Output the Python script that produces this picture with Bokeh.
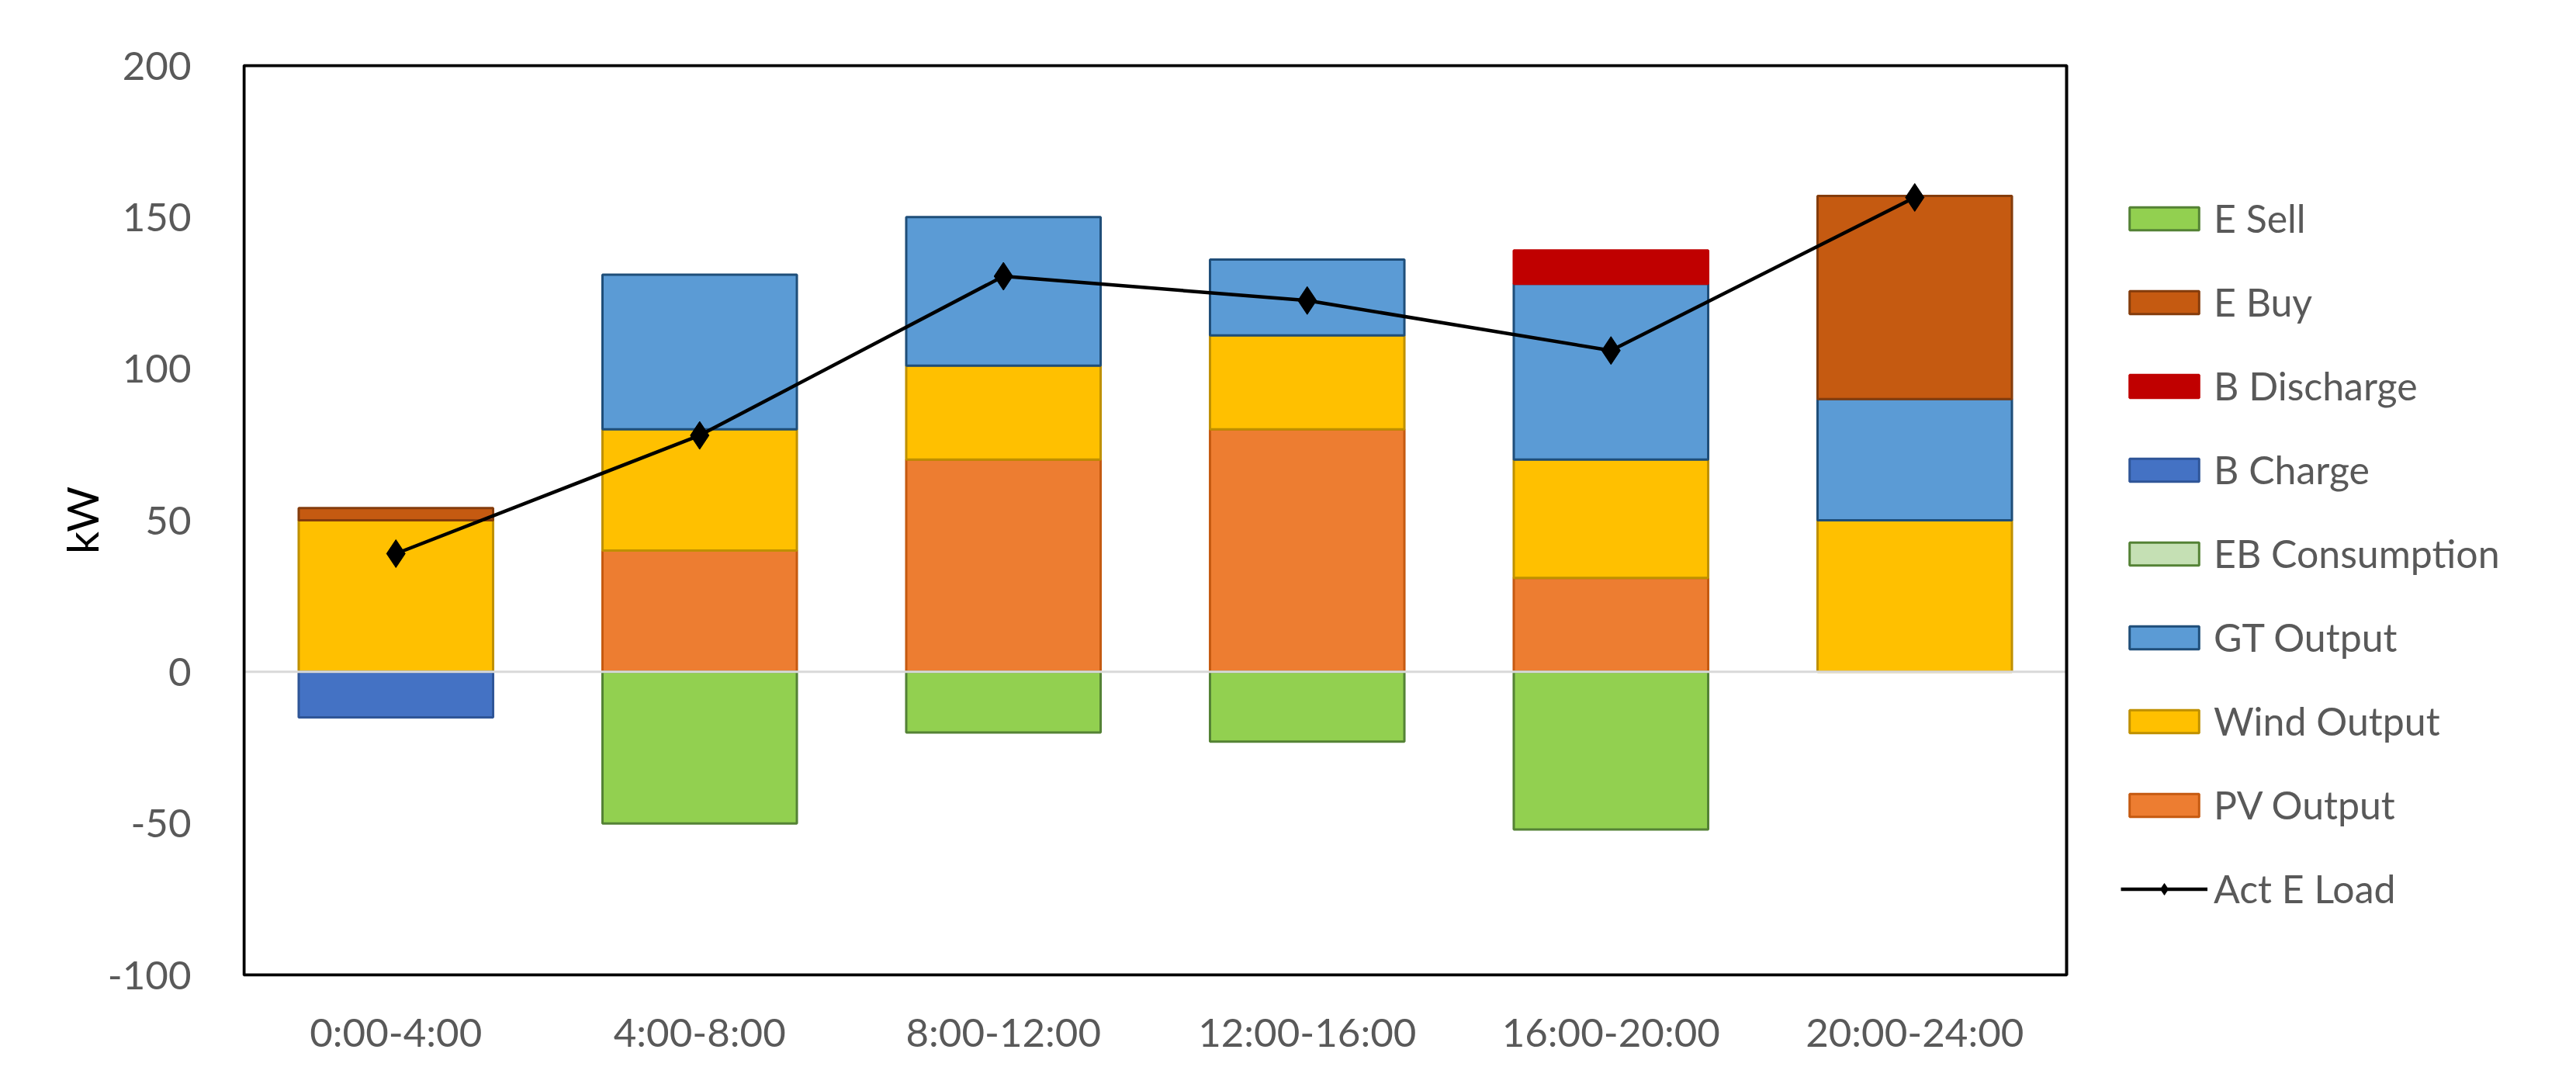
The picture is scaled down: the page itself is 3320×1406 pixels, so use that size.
from bokeh.plotting import figure
from bokeh.models import (ColumnDataSource, Range1d, FixedTicker, Legend, LegendItem, BoxAnnotation)
from bokeh.embed import file_html
from bokeh.resources import INLINE

# ---------------- data ----------------
periods = ["0:00-4:00", "4:00-8:00", "8:00-12:00", "12:00-16:00", "16:00-20:00", "20:00-24:00"]
pv_output = [0, 40, 70, 80, 31, 0]
wind_output = [50, 40, 31, 31, 39, 50]
gt_output = [0, 51, 49, 25, 58, 40]
eb_consumption = [0, 0, 0, 0, 0, 0]
b_charge = [-15, 0, 0, 0, 0, 0]
b_discharge = [0, 0, 0, 0, 11, 0]
e_buy = [4, 0, 0, 0, 0, 67]
e_sell = [0, -50, -20, -23, -52, 0]
act_e_load = [39, 78, 130.5, 122.5, 106, 156.5]
y_ticks = [-100, -50, 0, 50, 100, 150, 200]
y_min, y_max = -100, 200

# stacking order (bottom -> top), name, fill, line
series = [
    ("PV Output", pv_output, "#ED7D31", "#C55A11"),
    ("Wind Output", wind_output, "#FFC000", "#BF9000"),
    ("GT Output", gt_output, "#5B9BD5", "#1F4E79"),
    ("EB Consumption", eb_consumption, "#C5E0B4", "#548235"),
    ("B Charge", b_charge, "#4472C4", "#2F5597"),
    ("B Discharge", b_discharge, "#C00000", "#C00000"),
    ("E Buy", e_buy, "#C55A11", "#843C0C"),
    ("E Sell", e_sell, "#92D050", "#548235"),
]
legend_order = ["E Sell", "E Buy", "B Discharge", "B Charge", "EB Consumption",
                "GT Output", "Wind Output", "PV Output"]

FONT = "Lato"
TXT = "#595959"
NAN = float("nan")

# layout (pixels)
W, H = 3300, 1390
plot_w = 2349          # width of the bordered plot area
plot_h = 1172          # height of the bordered plot area
pad = 2                # small padding so the border is not clipped
left, top = 314, 84
right_space = W - left - plot_w
n = len(periods)
cat_px = plot_w / n
kw_px = plot_h / (y_max - y_min)

x_start = -0.5 - pad / cat_px
x_end = n - 0.5 + right_space / cat_px
y_start = y_min - pad / kw_px
y_end = y_max + pad / kw_px

p = figure(width=W, height=H, output_backend="svg", toolbar_location=None,
           x_range=Range1d(x_start, x_end), y_range=Range1d(y_start, y_end),
           min_border_left=left - pad, min_border_right=0,
           min_border_top=top - pad, min_border_bottom=H - top - plot_h - pad)
p.background_fill_color = "white"
p.border_fill_color = "white"
p.outline_line_color = None
p.xgrid.visible = False
p.ygrid.visible = False

pos_base = [0.0] * n
neg_base = [0.0] * n
renderers = {}
for name, vals, fill, line in series:
    xs, bots, tops = [], [], []
    for i, v in enumerate(vals):
        xs.append(i)
        if v > 0:
            bots.append(pos_base[i]); tops.append(pos_base[i] + v)
            pos_base[i] += v
        elif v < 0:
            bots.append(neg_base[i]); tops.append(neg_base[i] + v)
            neg_base[i] += v
        else:
            bots.append(NAN); tops.append(NAN)
    src = ColumnDataSource(dict(x=xs, bottom=bots, top=tops))
    r = p.vbar(x="x", bottom="bottom", top="top", width=0.64, source=src,
               fill_color=fill, line_color=line, line_width=3)
    renderers[name] = r

# horizontal zero axis line across the plot area
p.segment(x0=[-0.5], x1=[n - 0.5], y0=[0], y1=[0], line_color="#D9D9D9", line_width=3)

lsrc = ColumnDataSource(dict(x=list(range(n)), y=act_e_load))
lr = p.line("x", "y", source=lsrc, line_color="black", line_width=4.5)
sr = p.scatter("x", "y", source=lsrc, marker="diamond", size=36,
               fill_color="black", line_color="black")

# plot-area border
border = BoxAnnotation(left=-0.5, right=n - 0.5, bottom=y_min, top=y_max,
                       fill_alpha=0, line_color="black", line_alpha=1.0,
                       line_width=4, level="overlay")
p.add_layout(border)

items = [LegendItem(label=nm, renderers=[renderers[nm]], index=0) for nm in legend_order]
items.append(LegendItem(label="Act E Load", renderers=[lr, sr]))
legend = Legend(items=items, location=(pad + plot_w + 70, 83), orientation="vertical",
                glyph_width=112, glyph_height=37, label_standoff=8, spacing=48,
                padding=0, margin=0, border_line_color=None, background_fill_alpha=0,
                label_text_font=FONT, label_text_font_size="50px", label_text_color=TXT)
p.add_layout(legend, "center")

# axes
p.xaxis.ticker = FixedTicker(ticks=list(range(n)))
p.xaxis.major_label_overrides = {i: s for i, s in enumerate(periods)}
p.yaxis.ticker = FixedTicker(ticks=y_ticks)
p.yaxis.major_label_overrides = {t: str(t) for t in y_ticks}
for ax in (p.xaxis, p.yaxis):
    ax.axis_line_color = None
    ax.major_tick_line_color = None
    ax.minor_tick_line_color = None
    ax.major_label_text_font = FONT
    ax.major_label_text_font_size = "51px"
    ax.major_label_text_color = TXT
p.xaxis.major_label_standoff = 34
p.yaxis.major_label_standoff = 60
p.yaxis.axis_label = "kW"
p.yaxis.axis_label_text_font = FONT
p.yaxis.axis_label_text_font_size = "57px"
p.yaxis.axis_label_text_font_style = "normal"
p.yaxis.axis_label_text_color = "black"
p.yaxis.axis_label_standoff = -3

open("out.html", "w").write(file_html(p, INLINE))
